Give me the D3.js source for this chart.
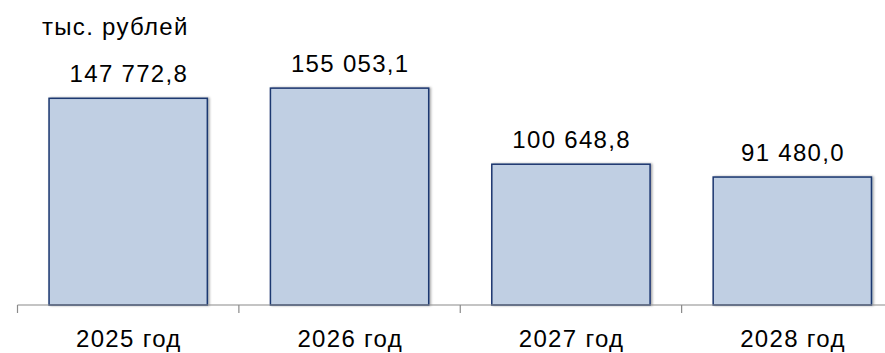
<!DOCTYPE html>
<html><head><meta charset="utf-8">
<script src="https://cdn.jsdelivr.net/npm/d3@7"></script>
<style>body{margin:0;background:#fff;}svg{display:block;font-family:"Liberation Sans",Arial,Helvetica,sans-serif;}</style>
</head><body>
<svg id="c" width="885" height="353"></svg>
<script>
const categories = ["2025 год", "2026 год", "2027 год", "2028 год"];
const values = [147772.8, 155053.1, 100648.8, 91480.0];
const valueLabels = ["147 772,8", "155 053,1", "100 648,8", "91 480,0"];
const unitLabel = "тыс. рублей";

const svg = d3.select("#c");
const baseY = 305;
const LS = 1.3;
const x = d3.scaleBand().domain(categories).range([17.5, 903]).paddingInner(0.285).paddingOuter(0.1425);
const y = d3.scaleLinear().domain([0, 160000]).range([baseY, 81.2]);

const defs = svg.append("defs");
const f = defs.append("filter").attr("id","sh").attr("x","-10%").attr("y","-10%").attr("width","130%").attr("height","130%");
f.append("feDropShadow").attr("dx",1.5).attr("dy",0).attr("stdDeviation",1.2).attr("flood-color","#000").attr("flood-opacity",0.35);

svg.append("g").selectAll("rect").data(values).join("rect")
  .attr("x",(d,i)=>x(categories[i]))
  .attr("y",d=>y(d))
  .attr("width",x.bandwidth())
  .attr("height",d=>baseY-y(d))
  .attr("fill","#c0cfe3")
  .attr("stroke","#1b3770")
  .attr("stroke-width",1.5)
  .attr("filter","url(#sh)");

// axis
const axis = d3.axisBottom(x).tickSize(0).tickFormat("");
const ag = svg.append("g").attr("transform",`translate(0,${baseY})`).call(axis);
ag.select(".domain").remove();
const step = x.step();
const tickXs = d3.range(categories.length+1).map(i=>x.range()[0]+i*step);
ag.append("line").attr("x1",tickXs[0]).attr("x2",885).attr("y1",0).attr("y2",0).attr("stroke","#8a8a8a").attr("stroke-width",1.2);
ag.selectAll(".tk").data(tickXs).join("line").attr("class","tk")
  .attr("x1",d=>d).attr("x2",d=>d).attr("y1",0).attr("y2",8).attr("stroke","#8a8a8a").attr("stroke-width",1.2);

svg.append("g").selectAll("text").data(categories).join("text")
  .attr("x",d=>x(d)+x.bandwidth()/2 + LS/2)
  .attr("y",346.5)
  .attr("text-anchor","middle")
  .attr("font-size",24)
  .attr("letter-spacing",LS)
  .attr("fill","#000")
  .text(d=>d);

svg.append("g").selectAll("text").data(values).join("text")
  .attr("x",(d,i)=>x(categories[i])+x.bandwidth()/2 + LS/2)
  .attr("y",d=>y(d)-16.5)
  .attr("text-anchor","middle")
  .attr("font-size",24)
  .attr("letter-spacing",LS)
  .attr("fill","#000")
  .text((d,i)=>valueLabels[i]);

svg.append("text").attr("x",42).attr("y",35).attr("font-size",24).attr("letter-spacing",LS).attr("fill","#000").text(unitLabel);
</script>
</body></html>
